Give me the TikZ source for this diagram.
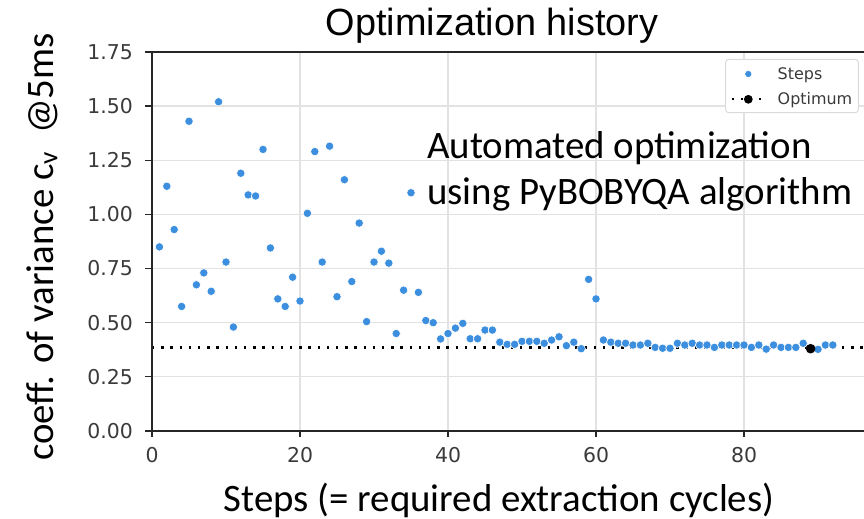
\documentclass[tikz,border=0pt]{standalone}
\usepackage{fontspec}
\setmainfont{Carlito}
\newfontfamily\plotfont{DejaVu Sans}
\newfontfamily\titlefont{Liberation Sans}
\usetikzlibrary{positioning}
\definecolor{OHBlue}{HTML}{3C8FDE}
\definecolor{OHGrid}{HTML}{E2E2E2}
\definecolor{OHSpine}{HTML}{262626}
\definecolor{OHTick}{HTML}{3A3A3A}
\definecolor{OHFrame}{HTML}{DADADA}
\tikzset{
  stepdot/.style={fill=OHBlue,draw=white,line width=0.6bp},
  optdot/.style={fill=black},
  gridline/.style={OHGrid,line width=1.2bp},
  spine/.style={OHSpine,line width=1.5bp},
  tickmark/.style={OHSpine,line width=1.2bp},
  optline/.style={black,line width=2.4bp,dash pattern=on 2.4bp off 6.8bp},
  ticklabel/.style={text=OHTick,font=\plotfont\fontsize{20.5}{24}\selectfont,inner sep=0pt},
  legendtext/.style={text=OHTick,font=\plotfont\fontsize{16}{18}\selectfont,inner sep=0pt},
  axislabel/.style={text=black,font=\fontsize{39}{46}\selectfont,inner sep=0pt},
  note/.style={axislabel,align=left},
  titlelabel/.style={text=black,font=\titlefont\fontsize{38}{44}\selectfont,inner sep=0pt},
  legendbox/.style={draw=OHFrame,line width=1bp,fill=white,rounded corners=3bp},
}
% step / coefficient of variance, read off the optimizer log
\newcommand{\stephistory}{1/0.85,2/1.13,3/0.93,4/0.575,5/1.43,6/0.675,7/0.73,8/0.645,
  9/1.52,10/0.78,11/0.48,12/1.19,13/1.09,14/1.085,15/1.30,16/0.845,17/0.61,18/0.575,
  19/0.71,20/0.60,21/1.005,22/1.29,23/0.78,24/1.315,25/0.62,26/1.16,27/0.69,28/0.96,
  29/0.505,30/0.78,31/0.83,32/0.775,33/0.45,34/0.65,35/1.10,36/0.64,37/0.51,38/0.50,
  39/0.425,40/0.45,41/0.475,42/0.497,43/0.426,44/0.426,45/0.466,46/0.466,47/0.41,
  48/0.40,49/0.40,50/0.414,51/0.414,52/0.414,53/0.405,54/0.42,55/0.435,56/0.394,
  57/0.41,58/0.38,59/0.70,60/0.61,61/0.42,62/0.41,63/0.405,64/0.405,65/0.397,66/0.397,
  67/0.405,68/0.386,69/0.382,70/0.382,71/0.405,72/0.397,73/0.405,74/0.397,75/0.397,
  76/0.386,77/0.397,78/0.397,79/0.397,80/0.397,81/0.386,82/0.397,83/0.378,84/0.397,
  85/0.386,86/0.386,87/0.386,88/0.405,89/0.38,90/0.377,91/0.397,92/0.397}
\begin{document}
\begin{tikzpicture}[x=1bp,y=-1bp]
    \useasboundingbox (0,0) rectangle (864,519);
    % axes area: step 0 at x=152, value 0 at y=431
    \begin{scope}[shift={(152,431)},x=7.4bp,y=216.6bp]
      \foreach \s in {20,40,60,80}
        \draw[gridline] (\s,0) -- (\s,1.75);
      \foreach \v in {0.25,0.5,0.75,1,1.25,1.5}
        \draw[gridline] (0,\v) -- (96.3,\v);
      \draw[optline] (0,0.385) -- (96.3,0.385);
      \foreach \s/\v in \stephistory
        \path[stepdot] (\s,\v) circle[radius=4.2bp];
      \path[optdot] (89,0.38) circle[radius=4.8bp];
      \draw[spine] (96.3,1.75) -- (0,1.75) -- (0,0) -- (96.3,0);
      \foreach \v/\t in {0/0.00,0.25/0.25,0.5/0.50,0.75/0.75,1/1.00,1.25/1.25,1.5/1.50,1.75/1.75}{
        \draw[tickmark] ([xshift=-7bp]0,\v) -- (0,\v);
        \node[ticklabel,anchor=east] (ytick\t) at ([xshift=-19bp]0,\v) {\t};
      }
      \foreach \s in {0,20,40,60,80}{
        \draw[tickmark] (\s,0) -- ([yshift=-6bp]\s,0);
        \node[ticklabel,anchor=north] (xtick\s) at ([yshift=-16bp]\s,0) {\s};
      }
    \end{scope}

    \node[titlelabel,anchor=base] (title) at (492,36) {Optimization history};

    % legend
    \node[legendbox,minimum width=132.6bp,minimum height=53.4bp] (legend) at (792,86) {};
    \path[stepdot] (748.3,74) circle[radius=3.6bp];
    \node[legendtext,anchor=base west] (legsteps) at (777.5,80) {Steps};
    \draw[optline,line width=2bp,dash pattern=on 2bp off 7bp] (731.7,99.3) -- (763,99.3);
    \path[optdot] (748.3,99.3) circle[radius=4.4bp];
    \node[legendtext,anchor=base west] (legopt) at (777.5,105) {Optimum};

    \node[note,anchor=base west] (note1) at (427,158.3) {Automated optimization};
    \node[note,anchor=base west] (note2) at (427,205) {using PyBOBYQA algorithm};

    \node[axislabel,anchor=base] (xlab) at (499,511) {Steps (= required extraction cycles)};
    \node[axislabel,rotate=90,anchor=base] (ylab) at (53,247)
      {coeff. of variance c\textsubscript{v}\ \ @5ms};
  \end{tikzpicture}
\end{document}
